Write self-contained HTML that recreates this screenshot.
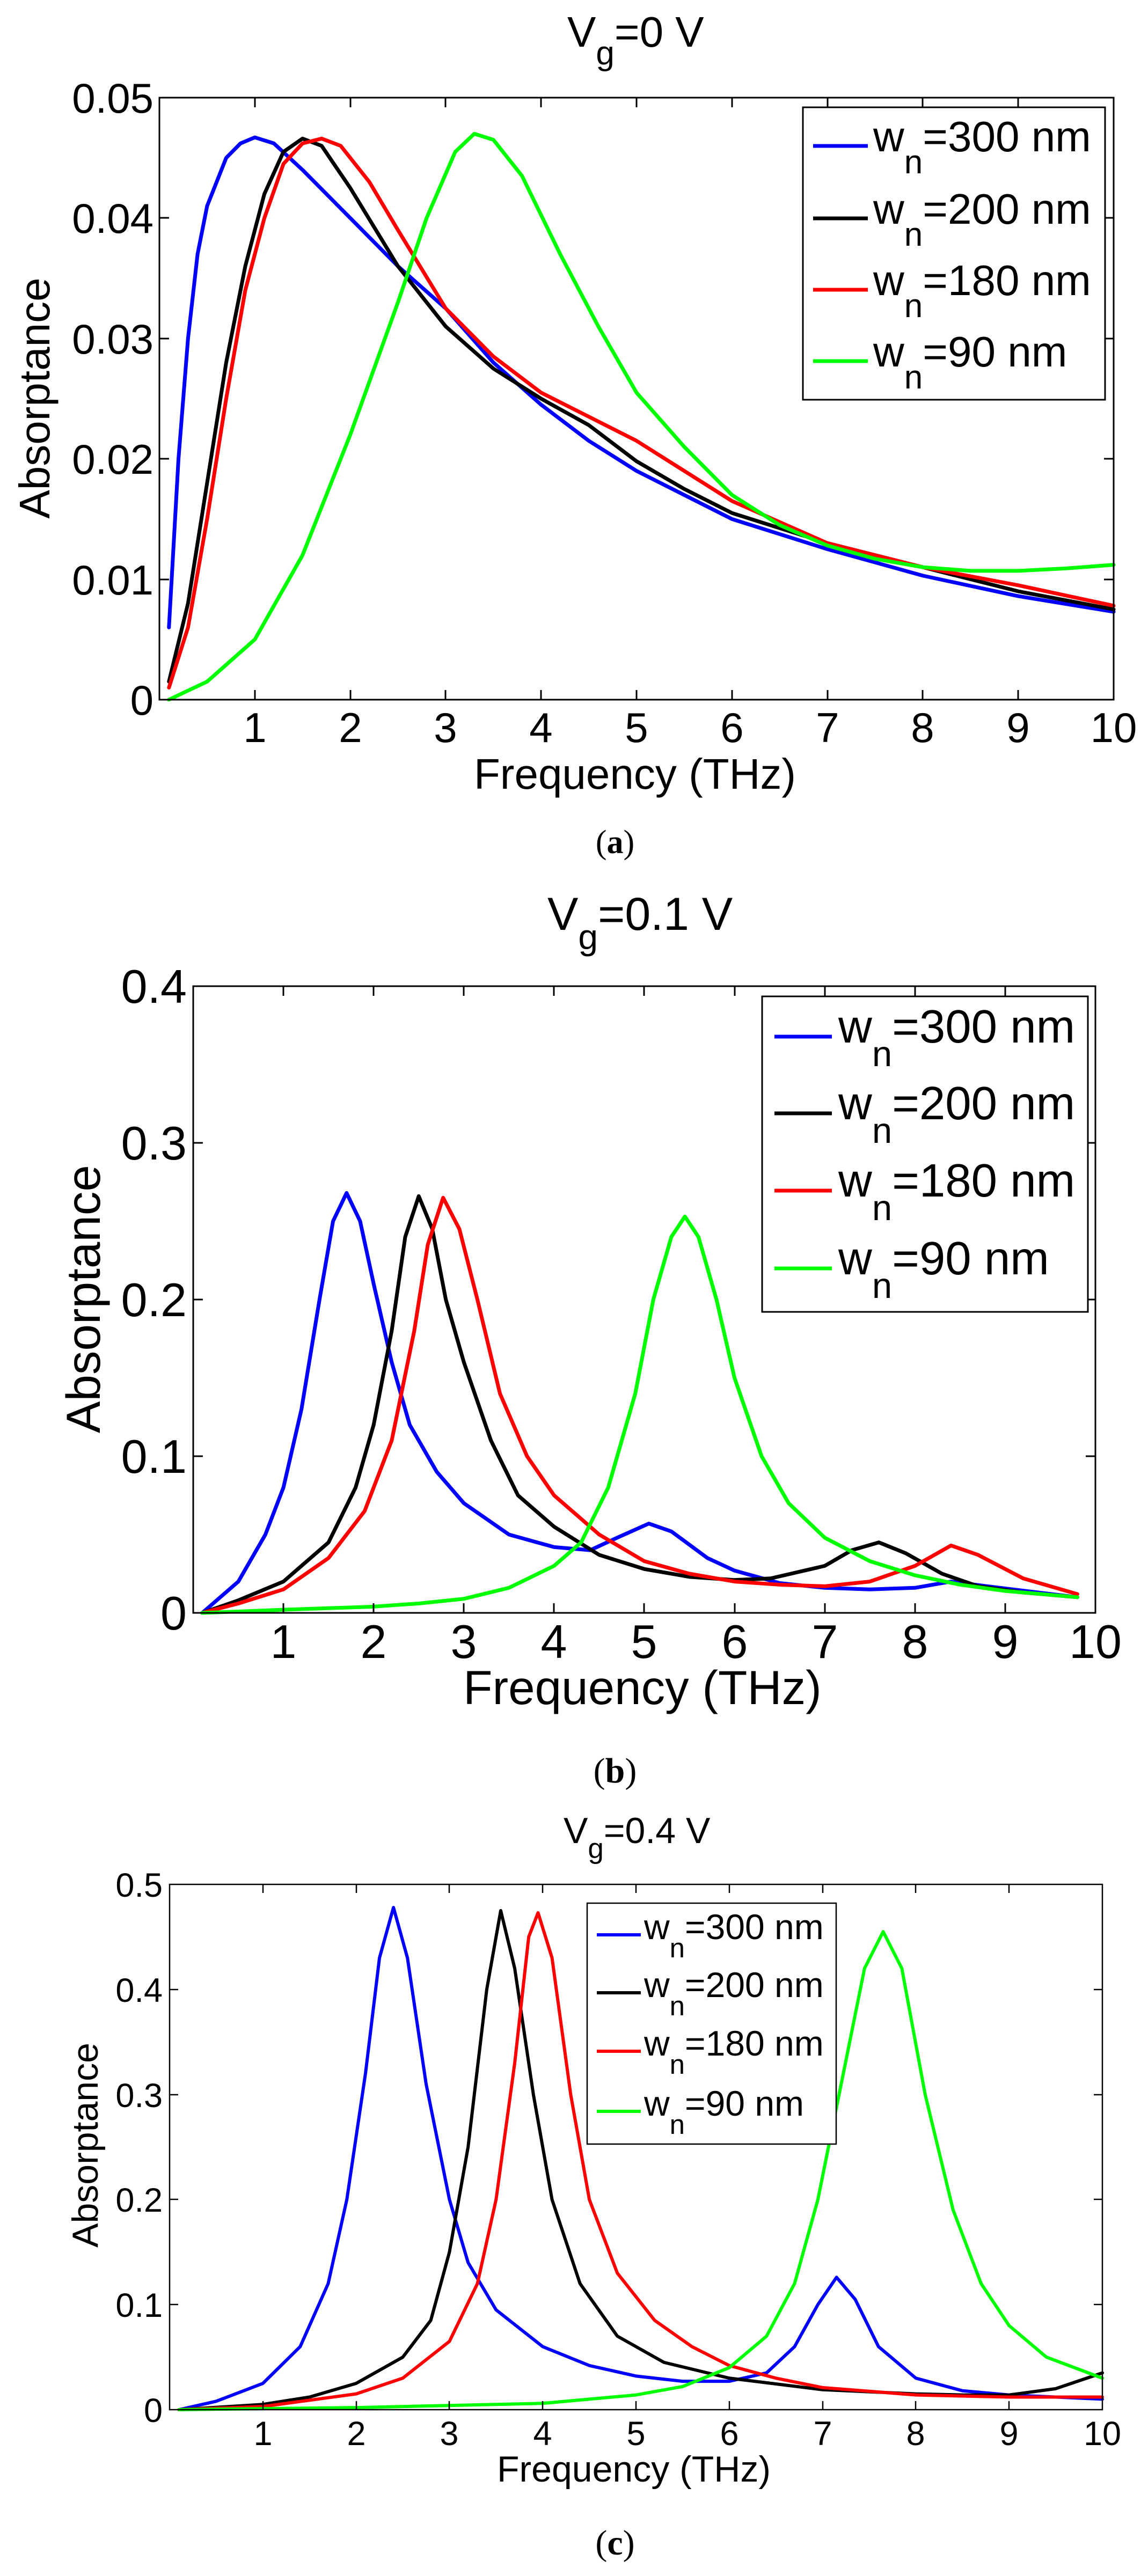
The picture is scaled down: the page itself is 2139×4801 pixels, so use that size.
<!DOCTYPE html>
<html><head><meta charset="utf-8"><style>
html,body{margin:0;padding:0;background:#fff}
svg{display:block}
text{font-family:"Liberation Sans",Arial,sans-serif;fill:#000}
.s{font-family:"Liberation Serif","Times New Roman",serif}
</style></head><body>
<svg width="2139" height="4801" viewBox="0 0 2139 4801" xmlns="http://www.w3.org/2000/svg">
<rect width="2139" height="4801" fill="#fff"/>

<!-- ================= PANEL A ================= -->
<text x="1057" y="87" font-size="80">V<tspan font-size="62" dy="33">g</tspan><tspan dy="-33">=0 V</tspan></text>
<g fill="none" stroke-width="7" stroke-linejoin="round" stroke-linecap="round">
<g transform="translate(297,1304) scale(177.8,-22440)">
<polyline vector-effect="non-scaling-stroke" stroke="#00f" points="0.1,0.006 0.2,0.02 0.3,0.03 0.4,0.037 0.5,0.041 0.7,0.045 0.85,0.0462 1.0,0.0467 1.2,0.0462 1.5,0.044 2,0.040 2.5,0.036 3,0.0325 3.5,0.028 4,0.0245 4.5,0.0215 5,0.019 6,0.015 7,0.0125 8,0.0103 9,0.0086 10,0.0073"/>
<polyline vector-effect="non-scaling-stroke" stroke="#000" points="0.1,0.0015 0.3,0.008 0.5,0.018 0.7,0.028 0.9,0.036 1.1,0.042 1.3,0.0455 1.5,0.0466 1.7,0.046 2,0.0425 2.5,0.036 3,0.031 3.5,0.0275 4,0.025 4.5,0.0228 5,0.0198 5.5,0.0175 6,0.0155 7,0.013 8,0.011 9,0.009 10,0.0075"/>
<polyline vector-effect="non-scaling-stroke" stroke="#f00" points="0.1,0.001 0.3,0.006 0.5,0.015 0.7,0.025 0.9,0.034 1.1,0.040 1.3,0.0445 1.5,0.0462 1.7,0.0466 1.9,0.046 2.2,0.043 2.5,0.039 3,0.0325 3.5,0.0285 4,0.0255 4.5,0.0235 5,0.0215 5.5,0.019 6,0.0165 7,0.013 8,0.011 9,0.0095 10,0.0078"/>
<polyline vector-effect="non-scaling-stroke" stroke="#0f0" points="0.1,0 0.5,0.0015 1,0.005 1.5,0.012 2,0.022 2.5,0.033 2.8,0.040 3.1,0.0455 3.3,0.047 3.5,0.0465 3.8,0.0435 4.2,0.037 4.6,0.031 5,0.0255 5.5,0.021 6,0.017 6.5,0.0145 7,0.0128 7.5,0.0117 8,0.011 8.5,0.0107 9,0.0107 9.5,0.0109 10,0.0112"/>
</g></g>
<rect x="297" y="182" width="1778" height="1122" fill="none" stroke="#000" stroke-width="3"/>
<path stroke="#000" stroke-width="3" fill="none" d="M475,1304v-18M653,1304v-18M830,1304v-18M1008,1304v-18M1186,1304v-18M1364,1304v-18M1542,1304v-18M1719,1304v-18M1897,1304v-18
M475,182v18M653,182v18M830,182v18M1008,182v18M1186,182v18M1364,182v18M1542,182v18M1719,182v18M1897,182v18
M297,1080h18M297,855h18M297,631h18M297,406h18M2075,1080h-18M2075,855h-18M2075,631h-18M2075,406h-18"/>
<g font-size="78" text-anchor="middle">
<text x="475" y="1383">1</text><text x="653" y="1383">2</text><text x="830" y="1383">3</text><text x="1008" y="1383">4</text><text x="1186" y="1383">5</text><text x="1364" y="1383">6</text><text x="1542" y="1383">7</text><text x="1719" y="1383">8</text><text x="1897" y="1383">9</text><text x="2075" y="1383">10</text>
</g>
<g font-size="78" text-anchor="end">
<text x="286" y="1332">0</text><text x="286" y="1108">0.01</text><text x="286" y="883">0.02</text><text x="286" y="659">0.03</text><text x="286" y="434">0.04</text><text x="286" y="210">0.05</text>
</g>
<text font-size="80" text-anchor="middle" transform="translate(92,742) rotate(-90)">Absorptance</text>
<text x="1183" y="1470" font-size="80" text-anchor="middle">Frequency (THz)</text>
<rect x="1496" y="200" width="563" height="545" fill="#fff" stroke="#000" stroke-width="3"/>
<g stroke-width="7"><path d="M1515,272h102" stroke="#00f"/><path d="M1515,407h102" stroke="#000"/><path d="M1515,540h102" stroke="#f00"/><path d="M1515,673h102" stroke="#0f0"/></g>
<g font-size="80">
<text x="1627" y="282">w<tspan font-size="62" dy="41">n</tspan><tspan dy="-41">=300 nm</tspan></text>
<text x="1627" y="417">w<tspan font-size="62" dy="41">n</tspan><tspan dy="-41">=200 nm</tspan></text>
<text x="1627" y="550">w<tspan font-size="62" dy="41">n</tspan><tspan dy="-41">=180 nm</tspan></text>
<text x="1627" y="683">w<tspan font-size="62" dy="41">n</tspan><tspan dy="-41">=90 nm</tspan></text>
</g>
<text class="s" x="1146" y="1590" font-size="62" text-anchor="middle">(<tspan font-weight="bold">a</tspan>)</text>

<!-- ================= PANEL B ================= -->
<text x="1020" y="1733" font-size="86">V<tspan font-size="66" dy="36">g</tspan><tspan dy="-36">=0.1 V</tspan></text>
<g fill="none" stroke-width="7" stroke-linejoin="round" stroke-linecap="round">
<g transform="translate(360,3006) scale(168.1,-2920)">
<polyline vector-effect="non-scaling-stroke" stroke="#00f" points="0.1,0 0.5,0.02 0.8,0.05 1,0.08 1.2,0.13 1.4,0.2 1.55,0.25 1.7,0.268 1.85,0.25 2,0.21 2.2,0.16 2.4,0.12 2.7,0.09 3,0.07 3.5,0.05 4,0.042 4.4,0.04 4.7,0.048 5.05,0.057 5.3,0.052 5.7,0.035 6,0.027 6.5,0.019 7,0.016 7.5,0.015 8,0.016 8.4,0.02 8.8,0.017 9.8,0.01"/>
<polyline vector-effect="non-scaling-stroke" stroke="#000" points="0.1,0 0.5,0.008 1,0.02 1.5,0.045 1.8,0.08 2,0.12 2.2,0.18 2.35,0.24 2.5,0.266 2.65,0.245 2.8,0.2 3,0.16 3.3,0.11 3.6,0.075 4,0.055 4.5,0.037 5,0.028 5.5,0.023 6,0.021 6.4,0.022 7,0.03 7.3,0.04 7.6,0.045 7.9,0.038 8.3,0.025 8.7,0.017 9.2,0.013 9.8,0.01"/>
<polyline vector-effect="non-scaling-stroke" stroke="#f00" points="0.1,0 0.5,0.006 1,0.015 1.5,0.035 1.9,0.065 2.2,0.11 2.45,0.18 2.6,0.235 2.77,0.265 2.95,0.245 3.15,0.2 3.4,0.14 3.7,0.1 4,0.075 4.5,0.05 5,0.033 5.5,0.025 6,0.02 6.5,0.018 7,0.017 7.5,0.02 8,0.03 8.4,0.043 8.7,0.037 9.2,0.022 9.8,0.012"/>
<polyline vector-effect="non-scaling-stroke" stroke="#0f0" points="0.1,0 1,0.002 2,0.004 2.5,0.006 3,0.009 3.5,0.016 4,0.03 4.3,0.045 4.6,0.08 4.9,0.14 5.1,0.2 5.3,0.24 5.45,0.253 5.6,0.24 5.8,0.2 6,0.15 6.3,0.1 6.6,0.07 7,0.048 7.5,0.033 8,0.024 8.5,0.018 9,0.014 9.8,0.01"/>
</g></g>
<rect x="360" y="1838" width="1681" height="1168" fill="none" stroke="#000" stroke-width="3"/>
<path stroke="#000" stroke-width="3" fill="none" d="M528,3006v-18M696,3006v-18M864,3006v-18M1032,3006v-18M1200,3006v-18M1369,3006v-18M1537,3006v-18M1705,3006v-18M1873,3006v-18
M528,1838v18M696,1838v18M864,1838v18M1032,1838v18M1200,1838v18M1369,1838v18M1537,1838v18M1705,1838v18M1873,1838v18
M360,2714h18M360,2422h18M360,2130h18M2041,2714h-18M2041,2422h-18M2041,2130h-18"/>
<g font-size="88" text-anchor="middle">
<text x="528" y="3090">1</text><text x="696" y="3090">2</text><text x="864" y="3090">3</text><text x="1032" y="3090">4</text><text x="1200" y="3090">5</text><text x="1369" y="3090">6</text><text x="1537" y="3090">7</text><text x="1705" y="3090">8</text><text x="1873" y="3090">9</text><text x="2041" y="3090">10</text>
</g>
<g font-size="88" text-anchor="end">
<text x="348" y="3037">0</text><text x="348" y="2745">0.1</text><text x="348" y="2453">0.2</text><text x="348" y="2161">0.3</text><text x="348" y="1869">0.4</text>
</g>
<text font-size="89" text-anchor="middle" transform="translate(186,2421) rotate(-90)">Absorptance</text>
<text x="1197" y="3176" font-size="89" text-anchor="middle">Frequency (THz)</text>
<rect x="1420" y="1857" width="607" height="588" fill="#fff" stroke="#000" stroke-width="3"/>
<g stroke-width="7"><path d="M1443,1932h107" stroke="#00f"/><path d="M1443,2075h107" stroke="#000"/><path d="M1443,2219h107" stroke="#f00"/><path d="M1443,2364h107" stroke="#0f0"/></g>
<g font-size="87">
<text x="1562" y="1943">w<tspan font-size="67" dy="44">n</tspan><tspan dy="-44">=300 nm</tspan></text>
<text x="1562" y="2086">w<tspan font-size="67" dy="44">n</tspan><tspan dy="-44">=200 nm</tspan></text>
<text x="1562" y="2230">w<tspan font-size="67" dy="44">n</tspan><tspan dy="-44">=180 nm</tspan></text>
<text x="1562" y="2375">w<tspan font-size="67" dy="44">n</tspan><tspan dy="-44">=90 nm</tspan></text>
</g>
<text class="s" x="1146" y="3322" font-size="66" text-anchor="middle">(<tspan font-weight="bold">b</tspan>)</text>

<!-- ================= PANEL C ================= -->
<text x="1050" y="3435" font-size="68">V<tspan font-size="53" dy="28">g</tspan><tspan dy="-28">=0.4 V</tspan></text>
<g fill="none" stroke-width="6" stroke-linejoin="round" stroke-linecap="round">
<g transform="translate(316,4491) scale(173.8,-1958)">
<polyline vector-effect="non-scaling-stroke" stroke="#00f" points="0.1,0 0.5,0.008 1,0.025 1.4,0.06 1.7,0.12 1.9,0.2 2.1,0.32 2.25,0.43 2.4,0.478 2.55,0.43 2.75,0.31 3,0.2 3.2,0.14 3.5,0.095 4,0.06 4.5,0.042 5,0.032 5.5,0.027 6,0.027 6.4,0.035 6.7,0.06 6.95,0.1 7.15,0.126 7.35,0.105 7.6,0.06 8,0.03 8.5,0.018 9,0.014 9.5,0.012 10,0.01"/>
<polyline vector-effect="non-scaling-stroke" stroke="#000" points="0.1,0 1,0.005 1.5,0.012 2,0.025 2.5,0.05 2.8,0.085 3,0.15 3.2,0.25 3.4,0.4 3.55,0.475 3.7,0.42 3.9,0.3 4.1,0.2 4.4,0.12 4.8,0.07 5.3,0.045 6,0.03 7,0.019 8,0.015 8.5,0.014 9,0.014 9.5,0.02 10,0.035"/>
<polyline vector-effect="non-scaling-stroke" stroke="#f00" points="0.1,0 1,0.003 2,0.015 2.5,0.03 3,0.065 3.3,0.12 3.5,0.2 3.7,0.33 3.85,0.45 3.95,0.473 4.1,0.43 4.3,0.3 4.5,0.2 4.8,0.13 5.2,0.085 5.6,0.06 6,0.042 6.5,0.03 7,0.021 8,0.014 9,0.012 10,0.012"/>
<polyline vector-effect="non-scaling-stroke" stroke="#0f0" points="0.1,0 2,0.002 4,0.006 5,0.014 5.5,0.022 6,0.04 6.4,0.07 6.7,0.12 6.95,0.2 7.2,0.31 7.45,0.42 7.65,0.455 7.85,0.42 8.1,0.3 8.4,0.19 8.7,0.12 9,0.08 9.4,0.05 10,0.03"/>
</g></g>
<rect x="316" y="3512" width="1738" height="979" fill="none" stroke="#000" stroke-width="2.5"/>
<path stroke="#000" stroke-width="2.5" fill="none" d="M490,4491v-16M664,4491v-16M837,4491v-16M1011,4491v-16M1185,4491v-16M1359,4491v-16M1533,4491v-16M1706,4491v-16M1880,4491v-16
M490,3512v16M664,3512v16M837,3512v16M1011,3512v16M1185,3512v16M1359,3512v16M1533,3512v16M1706,3512v16M1880,3512v16
M316,4295h16M316,4099h16M316,3904h16M316,3708h16M2054,4295h-16M2054,4099h-16M2054,3904h-16M2054,3708h-16"/>
<g font-size="63" text-anchor="middle">
<text x="490" y="4557">1</text><text x="664" y="4557">2</text><text x="837" y="4557">3</text><text x="1011" y="4557">4</text><text x="1185" y="4557">5</text><text x="1359" y="4557">6</text><text x="1533" y="4557">7</text><text x="1706" y="4557">8</text><text x="1880" y="4557">9</text><text x="2054" y="4557">10</text>
</g>
<g font-size="63" text-anchor="end">
<text x="303" y="4514">0</text><text x="303" y="4318">0.1</text><text x="303" y="4122">0.2</text><text x="303" y="3927">0.3</text><text x="303" y="3731">0.4</text><text x="303" y="3535">0.5</text>
</g>
<text font-size="68" text-anchor="middle" transform="translate(182,3998) rotate(-90)">Absorptance</text>
<text x="1181" y="4625" font-size="68" text-anchor="middle">Frequency (THz)</text>
<rect x="1094" y="3547" width="464" height="449" fill="#fff" stroke="#000" stroke-width="2.5"/>
<g stroke-width="6"><path d="M1112,3606h82" stroke="#00f"/><path d="M1112,3714h82" stroke="#000"/><path d="M1112,3823h82" stroke="#f00"/><path d="M1112,3935h82" stroke="#0f0"/></g>
<g font-size="66">
<text x="1200" y="3614">w<tspan font-size="51" dy="34">n</tspan><tspan dy="-34">=300 nm</tspan></text>
<text x="1200" y="3722">w<tspan font-size="51" dy="34">n</tspan><tspan dy="-34">=200 nm</tspan></text>
<text x="1200" y="3831">w<tspan font-size="51" dy="34">n</tspan><tspan dy="-34">=180 nm</tspan></text>
<text x="1200" y="3943">w<tspan font-size="51" dy="34">n</tspan><tspan dy="-34">=90 nm</tspan></text>
</g>
<text class="s" x="1146" y="4761" font-size="66" text-anchor="middle">(<tspan font-weight="bold">c</tspan>)</text>
</svg>
</body></html>
